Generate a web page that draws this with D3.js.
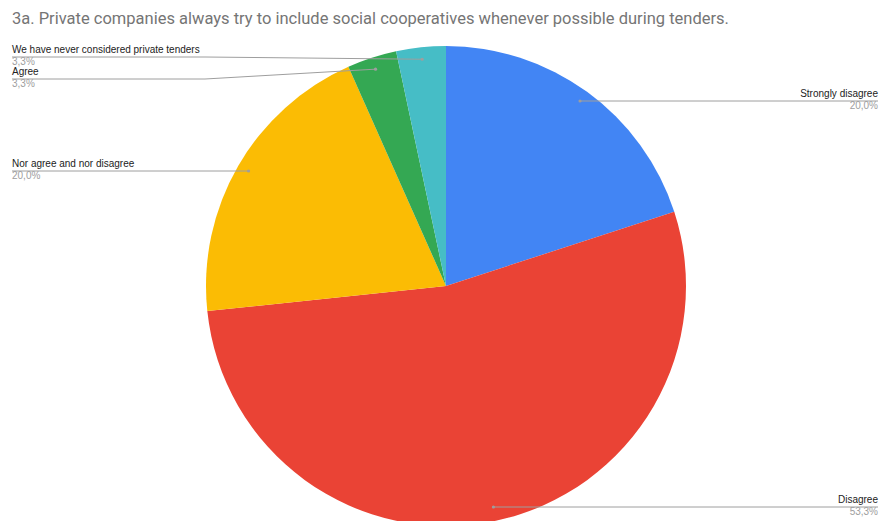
<!DOCTYPE html>
<html>
<head>
<meta charset="utf-8">
<script src="https://cdn.jsdelivr.net/npm/d3@7"></script>
<style>
  html, body { margin: 0; padding: 0; background: #fff; }
  svg { display: block; }
</style>
</head>
<body>
<svg id="chart" width="880" height="521"></svg>
<script>
// Survey answers (count of respondents) for question 3a
const categories = [
  "Strongly disagree",
  "Disagree",
  "Nor agree and nor disagree",
  "Agree",
  "We have never considered private tenders"
];
const counts = [6, 16, 6, 1, 1];
const colors = ["#4285F4", "#EA4335", "#FBBC04", "#34A853", "#46BDC6"];
const title = "3a. Private companies always try to include social cooperatives whenever possible during tenders.";

const W = 880, H = 521;
const cx = 446, cy = 286, R = 240;

const svg = d3.select("#chart");

svg.append("text")
  .attr("x", 12).attr("y", 24)
  .attr("font-family", "Roboto, Arial, sans-serif")
  .attr("font-size", 16.5)
  .attr("fill", "#757575")
  .text(title);

const total = d3.sum(counts);
const data = categories.map((c, i) => ({ name: c, value: counts[i], color: colors[i] }));

const pie = d3.pie().value(d => d.value).sort(null);
const arcs = pie(data);
const arc = d3.arc().innerRadius(0).outerRadius(R);

const g = svg.append("g").attr("transform", `translate(${cx},${cy})`);
g.selectAll("path.slice")
  .data(arcs)
  .enter().append("path")
  .attr("class", "slice")
  .attr("d", arc)
  .attr("fill", d => d.data.color);

const fmt = v => (v * 100).toFixed(1).replace(".", ",") + "%";

// anchor point for each leader line, just inside the rim
const anchor = d => {
  const a = (d.startAngle + d.endAngle) / 2;
  const r = R * 0.95;
  return [cx + r * Math.sin(a), cy - r * Math.cos(a)];
};

// label layout: side, line y, knee x (for left side)
const layout = [
  { side: "right", y: 101 },
  { side: "right", y: 507 },
  { side: "left", y: 171 },
  { side: "left", y: 79, knee: 205 },
  { side: "left", y: 57, knee: 205 }
];

const labels = svg.append("g");
arcs.forEach((d, i) => {
  const L = layout[i];
  const [ax, ay] = anchor(d);
  let pts;
  if (L.side === "right") {
    pts = [[ax, L.y], [878, L.y]];
  } else if (L.knee) {
    pts = [[12, L.y], [L.knee, L.y], [ax, ay]];
  } else {
    pts = [[12, L.y], [ax, L.y]];
  }
  labels.append("path")
    .attr("d", d3.line()(pts))
    .attr("fill", "none")
    .attr("stroke", "#9e9e9e")
    .attr("stroke-width", 1);
  labels.append("circle")
    .attr("cx", ax).attr("cy", L.side === "right" || !L.knee ? L.y : ay)
    .attr("r", 1.6)
    .attr("fill", "#9e9e9e");

  const tx = L.side === "right" ? 878 : 12;
  const anchorTxt = L.side === "right" ? "end" : "start";
  labels.append("text")
    .attr("x", tx).attr("y", L.y - 4)
    .attr("text-anchor", anchorTxt)
    .attr("font-family", "Arial, 'Liberation Sans', sans-serif")
    .attr("font-size", 10)
    .attr("fill", "#222")
    .text(d.data.name);
  labels.append("text")
    .attr("x", tx).attr("y", L.y + 8)
    .attr("text-anchor", anchorTxt)
    .attr("font-family", "Arial, 'Liberation Sans', sans-serif")
    .attr("font-size", 10)
    .attr("fill", "#9e9e9e")
    .text(fmt(d.data.value / total));
});
</script>
</body>
</html>
